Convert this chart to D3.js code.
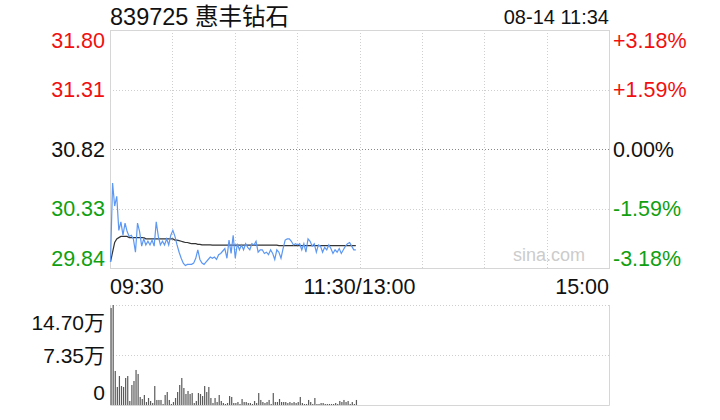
<!DOCTYPE html>
<html><head><meta charset="utf-8">
<script src="https://cdn.jsdelivr.net/npm/d3@7/dist/d3.min.js"></script>
<style>
html,body{margin:0;padding:0;background:#fff;}
text{font-family:"Liberation Sans",Arial,"Noto Sans CJK SC",sans-serif;}
</style></head>
<body>
<svg id="c" width="720" height="420"></svg>
<script>
const title = "839725 惠丰钻石";
const stamp = "08-14 11:34";
const prevClose = 30.82;
const priceTicks = [31.80, 31.31, 30.82, 30.33, 29.84];
const pctTicks = ["+3.18%", "+1.59%", "0.00%", "-1.59%", "-3.18%"];
const timeLabels = ["09:30", "11:30/13:00", "15:00"];
const volTicks = [147000, 73500, 0];
const volTickLabels = ["14.70万", "7.35万", "0"];

const price = [
29.89,30.54,30.35,30.43,30.15,30.22,30.11,30.21,30.14,30.10,
30.11,30.08,29.97,30.21,30.14,30.02,30.08,30.03,30.06,30.03,
30.07,30.02,30.22,30.10,30.03,30.06,30.03,30.08,30.03,30.11,
30.15,30.10,30.03,29.97,29.92,29.88,29.86,29.87,29.87,29.87,
29.88,29.92,29.99,29.91,29.88,29.87,29.89,29.91,29.93,29.92,
29.93,29.91,29.95,29.96,29.98,30.00,29.92,30.07,29.96,30.11,
29.92,30.04,29.99,30.03,29.99,30.04,30.01,29.99,30.04,30.03,
30.06,29.97,29.99,29.99,29.96,29.97,29.95,29.99,
29.96,29.91,29.99,29.97,29.92,30.00,30.07,30.08,30.08,30.06,
30.03,30.04,30.03,30.04,29.99,30.04,29.97,30.08,30.06,
30.02,30.04,29.97,30.03,30.02,29.97,30.01,29.99,
30.03,30.00,29.96,29.99,29.97,30.00,29.96,29.99,30.02,
30.04,30.05,30.02,29.99,29.99];

const avg = [
29.89,29.97,30.05,30.08,30.09,30.10,30.10,30.10,30.10,
30.09,30.09,30.09,30.09,30.09,30.09,30.09,30.09,
30.08,30.08,30.08,30.08,30.08,30.08,30.08,30.08,30.08,30.08,30.08,30.08,30.08,
30.08,30.07,30.07,30.065,30.06,30.055,30.05,30.05,30.045,30.04,30.04,30.04,30.035,30.035,30.03,30.03,30.03,30.03,30.03,
30.028,30.028,30.028,30.028,30.028,30.028,30.028,30.028,30.028,30.028,30.028,30.028,30.028,30.028,30.028,30.028,
30.028,30.028,30.028,30.028,30.028,30.028,30.028,30.028,30.028,30.028,30.028,30.028,30.028,30.028,30.028,30.028,
30.024,30.024,30.024,30.024,30.024,30.024,30.024,30.024,30.024,30.024,30.024,30.024,30.024,30.024,30.024,30.024,30.024,30.024,30.024,
30.024,30.024,30.024,30.024,30.024,30.024,30.024,30.024,30.024,30.024,30.024,30.024,30.024,30.024,30.024,30.024,30.024,30.024,30.024];

const volume = [
142600,147000,50000,26500,42600,27900,26500,39700,42600,5900,
29400,35300,51500,45600,11800,8800,14700,4400,10300,5900,
2900,27900,7400,7400,7400,1500,14700,19100,7400,1500,
4400,10300,19100,29400,39700,25000,16200,20600,16200,17600,
2900,5900,17600,16200,13200,27900,19100,26500,10300,2900,
10300,4400,14700,5900,2900,1500,2900,13200,11800,2900,
2900,4400,1500,8800,4400,4400,2900,2900,1500,5900,
2900,17600,7400,4400,2900,4400,7400,1500,17600,4400,
4400,8800,4400,4400,4400,2900,4400,2900,4400,2900,
4400,11800,2900,1500,1500,7400,4400,1500,10300,1500,
1500,2900,2900,1500,1500,1500,
1500,1500,2900,1500,5900,4400,7400,4400,5900,1500,
4400,1500,7400];

const svg = d3.select("#c");
const L = 110, R = 609, T = 30, B = 268, VT = 305, VB = 405;
const x = d3.scaleLinear().domain([0, 240]).range([L, R]);
const y = d3.scaleLinear().domain([29.84, 31.80]).range([B, T]);
const yv = d3.scaleLinear().domain([0, 147000]).range([VB, VT]);

const grid = "#cfcfcf";
// price panel grid
const xg = d3.range(1, 8).map(i => i * 30);
svg.append("g").selectAll("line").data(xg).join("line")
  .attr("x1", d => Math.round(x(d)) + 0.5).attr("x2", d => Math.round(x(d)) + 0.5)
  .attr("y1", T).attr("y2", B)
  .attr("stroke", grid).attr("stroke-dasharray", "1,2");
svg.append("g").selectAll("line").data([31.31, 30.82, 30.33]).join("line")
  .attr("x1", L).attr("x2", R)
  .attr("y1", d => Math.round(y(d)) + 0.5).attr("y2", d => Math.round(y(d)) + 0.5)
  .attr("stroke", d => d === prevClose ? "#888" : grid).attr("stroke-dasharray", "1,2");
svg.append("rect").attr("x", L + 0.5).attr("y", T + 0.5).attr("width", R - L).attr("height", B - T)
  .attr("fill", "none").attr("stroke", "#d6d6d6");

// volume panel grid
svg.append("g").selectAll("line").data([147000, 73500]).join("line")
  .attr("x1", L).attr("x2", R)
  .attr("y1", d => Math.round(yv(d)) + 0.5).attr("y2", d => Math.round(yv(d)) + 0.5)
  .attr("stroke", grid).attr("stroke-dasharray", "1,2");
svg.append("path").attr("d", `M${L+0.5},${VT}V${VB+0.5}H${R+0.5}V${VT}`)
  .attr("fill", "none").attr("stroke", "#d6d6d6");

// watermark
svg.append("text").attr("x", 585).attr("y", 261).attr("text-anchor", "end")
  .attr("font-size", 18).attr("fill", "#cccccc").text("sina.com");

// volume bars
svg.append("g").selectAll("rect").data(volume).join("rect")
  .attr("x", (d, i) => x(i) + 0.5).attr("width", 1.2)
  .attr("y", d => yv(d)).attr("height", d => yv(0) - yv(d))
  .attr("fill", "#5a5a5a");

// lines
const line = d3.line().x((d, i) => x(i) + 0.5).y(d => y(d));
svg.append("path").datum(avg).attr("d", line).attr("fill", "none")
  .attr("stroke", "#333").attr("stroke-width", 1.2);
svg.append("path").datum(price).attr("d", line).attr("fill", "none")
  .attr("stroke", "#5b97f3").attr("stroke-width", 1.2);

// title
svg.append("text").attr("x", L).attr("y", 25).attr("font-size", 23.5).attr("fill", "#111").text(title);
svg.append("text").attr("x", R).attr("y", 24).attr("text-anchor", "end").attr("font-size", 20).attr("fill", "#111").text(stamp);

// price axis labels
const col = v => v > prevClose ? "#f01010" : (v < prevClose ? "#10a010" : "#111");
const ly = (v, i) => i === 0 ? y(v) + 10 : (i === priceTicks.length - 1 ? y(v) - 10 : y(v));
svg.append("g").selectAll("text").data(priceTicks).join("text")
  .attr("x", 105).attr("y", (d, i) => ly(d, i)).attr("dy", "0.36em").attr("text-anchor", "end")
  .attr("font-size", 21.5).attr("fill", d => col(d)).text(d => d.toFixed(2));
svg.append("g").selectAll("text").data(priceTicks).join("text")
  .attr("x", 613).attr("y", (d, i) => ly(d, i)).attr("dy", "0.36em")
  .attr("font-size", 21.5).attr("fill", d => col(d)).text((d, i) => pctTicks[i]);

// time labels
const tx = [0, 120, 240];
const anchors = ["start", "middle", "end"];
svg.append("g").selectAll("text").data(timeLabels).join("text")
  .attr("x", (d, i) => x(tx[i])).attr("y", 294).attr("text-anchor", (d, i) => anchors[i])
  .attr("font-size", 21.5).attr("fill", "#111").text(d => d);

// volume labels
const vly = (v, i) => i === 0 ? yv(v) + 17 : (i === volTicks.length - 1 ? yv(v) - 13 : yv(v));
svg.append("g").selectAll("text").data(volTicks).join("text")
  .attr("x", 105).attr("y", (d, i) => vly(d, i)).attr("dy", "0.36em").attr("text-anchor", "end")
  .attr("font-size", 21).attr("fill", "#111").text((d, i) => volTickLabels[i]);
</script>
</body></html>
